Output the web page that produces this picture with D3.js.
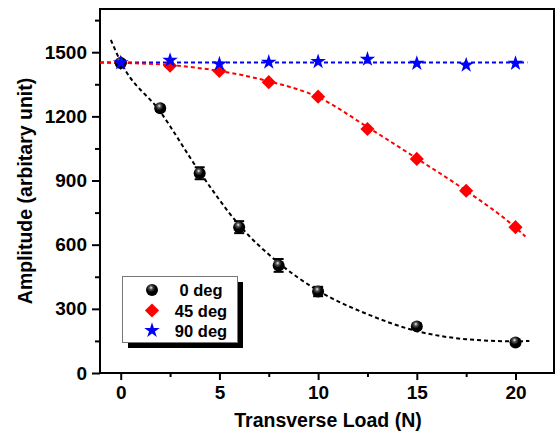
<!DOCTYPE html>
<html>
<head>
<meta charset="utf-8">
<script src="https://cdn.jsdelivr.net/npm/d3@7"></script>
<style>
  body { margin: 0; background: #fff; }
  text { font-family: "Liberation Sans", Arial, sans-serif; font-weight: bold; }
</style>
</head>
<body>
<div id="chart"></div>
<script>
// measured points
var load0 = [0, 2, 4, 6, 8, 10, 15, 20];
var amp0 = [1450, 1238, 934, 682, 503, 381, 218, 143];
var err0 = [12, 12, 28, 28, 30, 22, 12, 10];

var load45 = [0, 2.5, 5, 7.5, 10, 12.5, 15, 17.5, 20];
var amp45 = [1450, 1437, 1412, 1360, 1292, 1141, 1001, 852, 682];

var load90 = [0, 2.5, 5, 7.5, 10, 12.5, 15, 17.5, 20];
var amp90 = [1450, 1462, 1445, 1453, 1456, 1467, 1448, 1440, 1448];

// fitted curves
var fitX0 = [-0.5, 0, 2, 4, 6, 8, 10, 12.5, 15, 17.5, 20, 20.7];
var fitY0 = [1557, 1455, 1222, 940, 692, 515, 385, 275, 196, 158, 148, 150];
var fitX45 = [-1.05, 0, 2.5, 5, 7.5, 10, 12.5, 15, 17.5, 20, 20.5];
var fitY45 = [1452, 1450, 1440, 1412, 1364, 1290, 1150, 1003, 852, 680, 638];
var fitX90 = [-1.05, 20.6];
var fitY90 = [1452, 1452];

var legendNames = ["0 deg", "45 deg", "90 deg"];
var xTicks = [0, 5, 10, 15, 20];
var xMinor = [2.5, 7.5, 12.5, 17.5];
var yTicks = [0, 300, 600, 900, 1200, 1500];
var yMinor = [150, 450, 750, 1050, 1350, 1650];

function loaddata() {
    var w = 557, h = 433;
    var left = 100, right = 554, top = 9, bottom = 373;

    var svg = d3.select("#chart").append("svg")
                .attr("width", w)
                .attr("height", h);

    var x = d3.scaleLinear().domain([-1.05, 21.95]).range([left, right]);
    var y = d3.scaleLinear().domain([0, 1702]).range([bottom, top]);

    // sphere gradient
    var defs = svg.append("defs");
    var grad = defs.append("radialGradient")
                   .attr("id", "ball")
                   .attr("cx", "0.4").attr("cy", "0.35").attr("r", "0.6")
                   .attr("fx", "0.42").attr("fy", "0.3");
    grad.append("stop").attr("offset", "0").attr("stop-color", "#f4f4f4");
    grad.append("stop").attr("offset", "0.25").attr("stop-color", "#555");
    grad.append("stop").attr("offset", "0.6").attr("stop-color", "#000");
    grad.append("stop").attr("offset", "1").attr("stop-color", "#000");

    // axes
    svg.append("g")
       .attr("transform", "translate(0," + bottom + ")")
       .call(d3.axisBottom(x).tickValues(xTicks).tickSize(7).tickSizeOuter(0).tickPadding(6).tickFormat(d3.format("d")))
       .call(function(g) {
           g.select(".domain").remove();
           g.selectAll("line").attr("stroke-width", 2);
           g.selectAll("text").attr("font-size", 19).attr("fill", "#000");
       });
    svg.append("g")
       .attr("transform", "translate(0," + bottom + ")")
       .call(d3.axisBottom(x).tickValues(xMinor).tickSize(4).tickFormat(""))
       .call(function(g) { g.select(".domain").remove(); g.selectAll("line").attr("stroke-width", 2); });

    svg.append("g")
       .attr("transform", "translate(" + left + ",0)")
       .call(d3.axisLeft(y).tickValues(yTicks).tickSize(8).tickSizeOuter(0).tickPadding(5).tickFormat(d3.format("d")))
       .call(function(g) {
           g.select(".domain").remove();
           g.selectAll("line").attr("stroke-width", 2);
           g.selectAll("text").attr("font-size", 19).attr("fill", "#000");
       });
    svg.append("g")
       .attr("transform", "translate(" + left + ",0)")
       .call(d3.axisLeft(y).tickValues(yMinor).tickSize(5).tickFormat(""))
       .call(function(g) { g.select(".domain").remove(); g.selectAll("line").attr("stroke-width", 2); });

    // frame
    svg.append("rect")
       .attr("x", left).attr("y", top)
       .attr("width", right - left).attr("height", bottom - top)
       .attr("fill", "none").attr("stroke", "#000").attr("stroke-width", 2);

    // axis titles
    svg.append("text")
       .attr("x", 328).attr("y", 427)
       .attr("text-anchor", "middle")
       .attr("font-size", 19.5)
       .text("Transverse Load (N)");
    svg.append("text")
       .attr("transform", "translate(32," + (top + bottom) / 2 + ") rotate(-90)")
       .attr("text-anchor", "middle")
       .attr("font-size", 19.5)
       .text("Amplitude (arbitary unit)");

    // fit lines
    var line = d3.line()
                 .x(function(d) { return x(d[0]); })
                 .y(function(d) { return y(d[1]); })
                 .curve(d3.curveMonotoneX);
    var fits = [
        { xs: fitX90, ys: fitY90, color: "#0000ff" },
        { xs: fitX45, ys: fitY45, color: "#ff0000" },
        { xs: fitX0, ys: fitY0, color: "#000" }
    ];
    fits.forEach(function(f) {
        svg.append("path")
           .datum(d3.zip(f.xs, f.ys))
           .attr("d", line)
           .attr("fill", "none")
           .attr("stroke", f.color)
           .attr("stroke-width", 2)
           .attr("stroke-dasharray", "4,3");
    });

    var star = d3.symbol().type(d3.symbolStar).size(75);
    var diamond = d3.symbol().type(d3.symbolSquare).size(100);

    // 45 deg diamonds
    svg.selectAll(".d45")
       .data(d3.zip(load45, amp45))
       .enter().append("path")
       .attr("class", "d45")
       .attr("d", diamond)
       .attr("transform", function(d) { return "translate(" + x(d[0]) + "," + y(d[1]) + ") rotate(45)"; })
       .attr("fill", "#ff0000");

    // 0 deg error bars + spheres
    var pts0 = d3.zip(load0, amp0, err0);
    var eb = svg.selectAll(".eb").data(pts0).enter().append("g").attr("class", "eb");
    eb.append("line")
      .attr("x1", function(d) { return x(d[0]); }).attr("x2", function(d) { return x(d[0]); })
      .attr("y1", function(d) { return y(d[1] - d[2]); }).attr("y2", function(d) { return y(d[1] + d[2]); })
      .attr("stroke", "#000").attr("stroke-width", 2);
    [-1, 1].forEach(function(s) {
        eb.append("line")
          .attr("x1", function(d) { return x(d[0]) - 5; }).attr("x2", function(d) { return x(d[0]) + 5; })
          .attr("y1", function(d) { return y(d[1] + s * d[2]); }).attr("y2", function(d) { return y(d[1] + s * d[2]); })
          .attr("stroke", "#000").attr("stroke-width", 2);
    });
    svg.selectAll(".b0")
       .data(pts0)
       .enter().append("circle")
       .attr("class", "b0")
       .attr("cx", function(d) { return x(d[0]); })
       .attr("cy", function(d) { return y(d[1]); })
       .attr("r", 6)
       .attr("fill", "url(#ball)");

    // 90 deg stars
    svg.selectAll(".s90")
       .data(d3.zip(load90, amp90))
       .enter().append("path")
       .attr("class", "s90")
       .attr("d", star)
       .attr("transform", function(d) { return "translate(" + x(d[0]) + "," + y(d[1]) + ")"; })
       .attr("fill", "#0000ff");

    // legend
    var lg = svg.append("g");
    lg.append("rect")
      .attr("x", 128).attr("y", 282).attr("width", 115).attr("height", 66)
      .attr("fill", "#000");
    lg.append("rect")
      .attr("x", 122.5).attr("y", 276.5).attr("width", 115).attr("height", 66)
      .attr("fill", "#fff").attr("stroke", "#777").attr("stroke-width", 1);
    var rowY = [290, 310.5, 330.5];
    lg.append("circle").attr("cx", 152).attr("cy", rowY[0]).attr("r", 6).attr("fill", "url(#ball)");
    lg.append("path").attr("d", diamond)
      .attr("transform", "translate(152," + rowY[1] + ") rotate(45)").attr("fill", "#ff0000");
    lg.append("path").attr("d", star)
      .attr("transform", "translate(152," + rowY[2] + ")").attr("fill", "#0000ff");
    lg.selectAll(".lt")
      .data(legendNames)
      .enter().append("text")
      .attr("class", "lt")
      .attr("x", 201)
      .attr("y", function(d, i) { return rowY[i] + 6; })
      .attr("text-anchor", "middle")
      .attr("font-size", 16.5)
      .text(function(d) { return d; });
}

window.onload = loaddata;
</script>
</body>
</html>
